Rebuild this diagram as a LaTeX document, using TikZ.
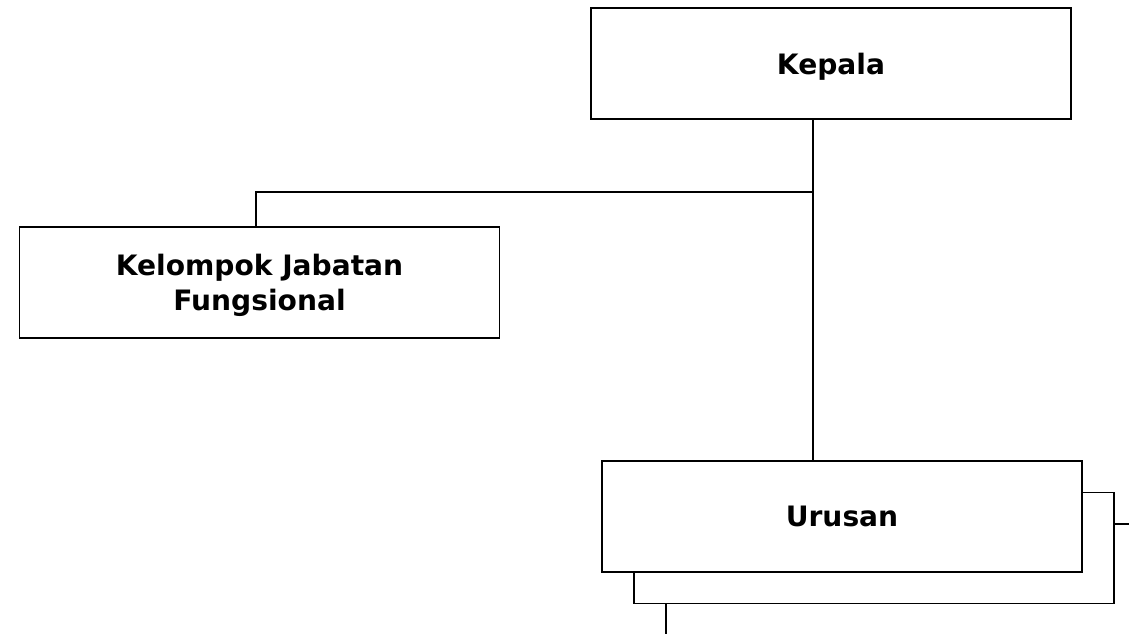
\documentclass[tikz,border=0pt]{standalone}
\usepackage{fontspec}
\setmainfont{DejaVu Sans}
\newcommand\bagantextstyle{\fontsize{16}{20}\selectfont\bfseries}
\newcommand\baganline{0.9pt}
\newcommand\kotaklebar{9.6cm}
\newcommand\kotaktinggi{2.22cm}
\tikzset{
  kotak/.style={draw, fill=white, line width=\baganline, align=center,
    inner sep=0pt, text depth=0pt, font=\bagantextstyle,
    minimum width=\kotaklebar, minimum height=\kotaktinggi},
  garis/.style={line width=\baganline}
}
\begin{document}
\begin{tikzpicture}[x=0.02cm, y=-0.02cm]
    \useasboundingbox (0, 0) rectangle (1129, 634) ;
    % kotak-kotak
    \node[kotak] (kepala) at (831, 63.5) {Kepala} ;
    \node[kotak] (jabfung) at (259.5, 282.5) {Kelompok Jabatan\\Fungsional} ;
    \node[kotak] (urusanbg) at (874, 548) {} ;
    \node[kotak] (urusan) at (842, 516.5) {Urusan} ;
    % garis penghubung
    \coordinate (simpul) at (813, 192) ;
    \coordinate (ujungkanan) at (1129, 524) ;
    \coordinate (ujungbawah) at (666, 634) ;
    \draw[garis] (simpul |- kepala.south) -- (simpul |- urusan.north) ;
    \draw[garis] (jabfung.north -| 256, 0) |- (simpul) ;
    \draw[garis] (urusanbg.east |- ujungkanan) -- (ujungkanan) ;
    \draw[garis] (urusanbg.south -| ujungbawah) -- (ujungbawah) ;
  \end{tikzpicture}
\end{document}
